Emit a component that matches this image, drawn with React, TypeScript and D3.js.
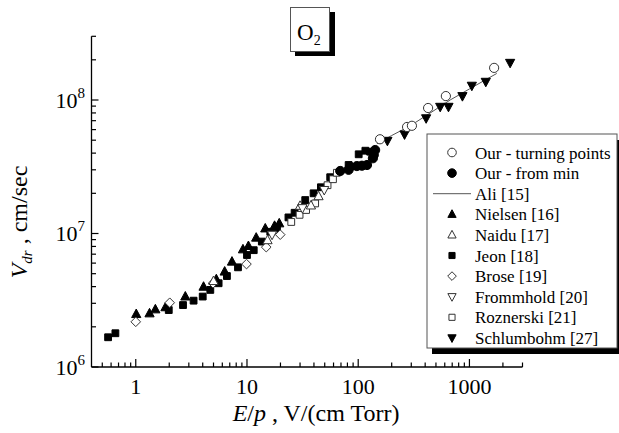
import React from "react";
import * as d3 from "d3";

// E/p (V/(cm Torr)) vs drift velocity (cm/sec)
const turningPoints: [number, number][] = [
  [157, 5.08e7], [275, 6.28e7], [304, 6.41e7], [425, 8.71e7], [614, 1.07e8], [1667, 1.74e8],
];
const fromMin: [number, number][] = [
  [68.9, 2.94e7], [82, 3.0e7], [84.7, 3.16e7], [97.3, 3.2e7], [108, 3.22e7], [120, 3.26e7],
  [135.5, 3.66e7], [138, 3.87e7], [142, 4.22e7],
];
const ali: [number, number][] = [
  [147, 4.7e7], [200, 5.42e7], [293, 6.4e7], [450, 8.05e7], [671, 1.0e8], [1000, 1.21e8], [1760, 1.58e8],
];
const nielsen: [number, number][] = [
  [1.01, 2.49e6], [1.33, 2.52e6], [1.5, 2.7e6], [1.85, 2.8e6], [2.79, 3.37e6], [4.07, 3.99e6],
  [5.3, 4.54e6], [6.3, 5.18e6], [7.33, 6.15e6], [9.2, 7.6e6], [10.3, 8.05e6], [12.1, 9.3e6],
  [14.6, 1.09e7], [17.7, 1.14e7], [19.5, 1.19e7],
];
const naidu: [number, number][] = [
  [5.0, 4.4e6], [15.3, 8.9e6], [30, 1.61e7], [37.6, 1.62e7], [44, 1.9e7],
];
const jeon: [number, number][] = [
  [0.564, 1.67e6], [0.656, 1.79e6], [1.98, 2.67e6], [2.66, 2.91e6], [3.31, 3.14e6], [4.0, 3.37e6],
  [4.68, 3.78e6], [5.56, 4.24e6], [6.6, 4.8e6], [8.3, 5.58e6], [10, 6.9e6], [11.5, 7.5e6],
  [13.6, 8.7e6], [16.2, 1.03e7], [18.6, 1.09e7], [23.6, 1.32e7], [26.8, 1.43e7], [33.4, 1.78e7],
  [39.7, 2.0e7], [46.2, 2.22e7], [56, 2.64e7], [82, 3.26e7], [101, 3.92e7], [116, 4.17e7], [128, 4.1e7],
];
const brose: [number, number][] = [
  [1.0, 2.18e6], [2.02, 3.03e6], [4.95, 4.24e6], [9.9, 5.9e6], [14.9, 7.9e6], [19.9, 9.8e6],
];
const frommhold: [number, number][] = [
  [16.8, 9.8e6], [31.5, 1.55e7], [49.5, 2.12e7],
];
const roznerski: [number, number][] = [
  [25, 1.22e7], [29.7, 1.38e7], [34, 1.5e7], [41, 1.68e7], [53, 2.3e7], [59.3, 2.55e7], [64.3, 2.85e7],
];
const schlumbohm: [number, number][] = [
  [183, 4.95e7], [261, 5.53e7], [408, 7.3e7], [546, 8.9e7], [648, 8.9e7], [865, 1.07e8],
  [1051, 1.28e8], [1403, 1.37e8], [2322, 1.9e8],
];

const xMajor = [1, 10, 100, 1000];
const yMajor = [1e6, 1e7, 1e8];
const yExp = ["6", "7", "8"];

type Kind = "circle" | "square" | "triUp" | "triDown" | "diamond" | "line";

const legendItems: { label: string; kind: Kind; filled: boolean }[] = [
  { label: "Our - turning points", kind: "circle", filled: false },
  { label: "Our - from min", kind: "circle", filled: true },
  { label: "Ali [15]", kind: "line", filled: false },
  { label: "Nielsen [16]", kind: "triUp", filled: true },
  { label: "Naidu [17]", kind: "triUp", filled: false },
  { label: "Jeon [18]", kind: "square", filled: true },
  { label: "Brose [19]", kind: "diamond", filled: false },
  { label: "Frommhold [20]", kind: "triDown", filled: false },
  { label: "Roznerski [21]", kind: "square", filled: false },
  { label: "Schlumbohm [27]", kind: "triDown", filled: true },
];

const W = 619;
const H = 433;
const left = 91.5;
const right = 522.5;
const bottom = 367;
const top = 36.3;

const x = d3.scaleLog().domain([0.4, 3000]).range([left, right]);
const y = d3.scaleLog().domain([1e6, 3e8]).range([bottom, top]);

function markerPath(kind: Kind, s: number): string {
  switch (kind) {
    case "square":
      return `M${-s},${-s}h${2 * s}v${2 * s}h${-2 * s}Z`;
    case "triUp":
      return `M0,${-s * 1.1}L${s},${s * 0.75}L${-s},${s * 0.75}Z`;
    case "triDown":
      return `M0,${s * 1.1}L${s},${-s * 0.75}L${-s},${-s * 0.75}Z`;
    case "diamond":
      return `M0,${-s}L${s},0L0,${s}L${-s},0Z`;
    default:
      return "";
  }
}

function Marker({ kind, filled, cx, cy, legend }: { kind: Kind; filled: boolean; cx: number; cy: number; legend?: boolean }) {
  const fill = filled ? "#000" : "#fff";
  const stroke = filled ? "#000" : "#333";
  if (kind === "circle") {
    return <circle cx={cx} cy={cy} r={legend ? 4.3 : 4.6} fill={fill} stroke={stroke} strokeWidth={1} />;
  }
  const size = kind === "square" ? 3.4 : kind === "diamond" ? 4.8 : 4.6;
  return (
    <path
      d={markerPath(kind, legend ? size * 0.9 : size)}
      transform={`translate(${cx},${cy})`}
      fill={fill}
      stroke={stroke}
      strokeWidth={1}
    />
  );
}

function Series({ data, kind, filled }: { data: [number, number][]; kind: Kind; filled: boolean }) {
  return (
    <g>
      {data.map((d, i) => (
        <Marker key={i} kind={kind} filled={filled} cx={x(d[0])} cy={y(d[1])} />
      ))}
    </g>
  );
}

function minorTicks(lo: number, hi: number): number[] {
  const out: number[] = [];
  for (let e = Math.floor(Math.log10(lo)); e <= Math.ceil(Math.log10(hi)); e++) {
    for (let m = 1; m <= 9; m++) {
      const v = m * Math.pow(10, e);
      if (v >= lo * 0.999 && v <= hi * 1.001) out.push(v);
    }
  }
  return out;
}

export default function App() {
  const line = d3
    .line<[number, number]>()
    .x((d) => x(d[0]))
    .y((d) => y(d[1]));

  const xTicks = minorTicks(0.4, 3000).filter((v) => v >= 0.5);
  const yTicks = minorTicks(1e6, 3e8);
  const font = "'Liberation Serif', 'Times New Roman', serif";

  const legX = 427;
  const legY = 134;
  const legW = 190;
  const legH = 214;
  const rowY0 = 152.5;
  const rowStep = 20.6;

  return (
    <div style={{ position: "absolute", left: 0, top: 0 }}>
      <svg width={W} height={H} style={{ display: "block", background: "#fff" }} fontFamily={font}>
        {/* title box */}
        <rect x={295} y={12} width={40} height={44} fill="#000" />
        <rect x={290.5} y={7.5} width={39} height={44} fill="#fff" stroke="#555" strokeWidth={1} />
        <text x={297} y={39.5} fontSize={23} fill="#000">
          O<tspan fontSize={14} dy={5}>2</tspan>
        </text>

        {/* axes */}
        <line x1={left} x2={left} y1={y(3e8)} y2={bottom} stroke="#000" strokeWidth={1.3} />
        <line x1={left} x2={right} y1={bottom} y2={bottom} stroke="#000" strokeWidth={1.3} />
        {xTicks.map((v, i) => {
          const major = xMajor.includes(v);
          return (
            <line key={i} x1={x(v)} x2={x(v)} y1={bottom} y2={bottom - (major ? 8 : 4.5)} stroke="#000" strokeWidth={1.2} />
          );
        })}
        {yTicks.map((v, i) => {
          const major = yMajor.includes(v);
          return (
            <line key={i} x1={left} x2={left + (major ? 7 : 4.5)} y1={y(v)} y2={y(v)} stroke="#000" strokeWidth={1.2} />
          );
        })}
        {xMajor.map((v) => (
          <text key={v} x={x(v)} y={394} fontSize={22} textAnchor="middle" fill="#000">
            {v}
          </text>
        ))}
        {yMajor.map((v, i) => (
          <text key={v} x={85} y={y(v) + 8} fontSize={22} textAnchor="end" fill="#000">
            10<tspan fontSize={15} dy={-10}>{yExp[i]}</tspan>
          </text>
        ))}

        {/* axis titles */}
        <text x={316} y={421} fontSize={24} textAnchor="middle" fill="#000">
          <tspan fontStyle="italic">E</tspan>/<tspan fontStyle="italic">p</tspan> , V/(cm Torr)
        </text>
        <text transform="translate(27,222) rotate(-90)" fontSize={24} textAnchor="middle" fill="#000">
          <tspan fontStyle="italic">V</tspan>
          <tspan fontStyle="italic" fontSize={15} dy={5}>dr</tspan>
          <tspan dy={-5}> , cm/sec</tspan>
        </text>

        {/* data */}
        <path d={line(ali) ?? ""} fill="none" stroke="#555" strokeWidth={1} />
        <Series data={jeon} kind="square" filled={true} />
        <Series data={nielsen} kind="triUp" filled={true} />
        <Series data={brose} kind="diamond" filled={false} />
        <Series data={roznerski} kind="square" filled={false} />
        <Series data={naidu} kind="triUp" filled={false} />
        <Series data={frommhold} kind="triDown" filled={false} />
        <Series data={fromMin} kind="circle" filled={true} />
        <Series data={schlumbohm} kind="triDown" filled={true} />
        <Series data={turningPoints} kind="circle" filled={false} />

        {/* legend */}
        <rect x={legX + 5} y={legY + 6} width={legW} height={legH} fill="#000" />
        <rect x={legX} y={legY} width={legW} height={legH} fill="#fff" stroke="#555" strokeWidth={1} />
        {legendItems.map((it, i) => {
          const cy = rowY0 + i * rowStep;
          return (
            <g key={it.label}>
              {it.kind === "line" ? (
                <line x1={433} x2={471} y1={cy} y2={cy} stroke="#555" strokeWidth={1} />
              ) : (
                <Marker kind={it.kind} filled={it.filled} cx={452} cy={cy} legend />
              )}
              <text x={475} y={cy + 6} fontSize={17} fill="#000">
                {it.label}
              </text>
            </g>
          );
        })}
      </svg>
    </div>
  );
}
